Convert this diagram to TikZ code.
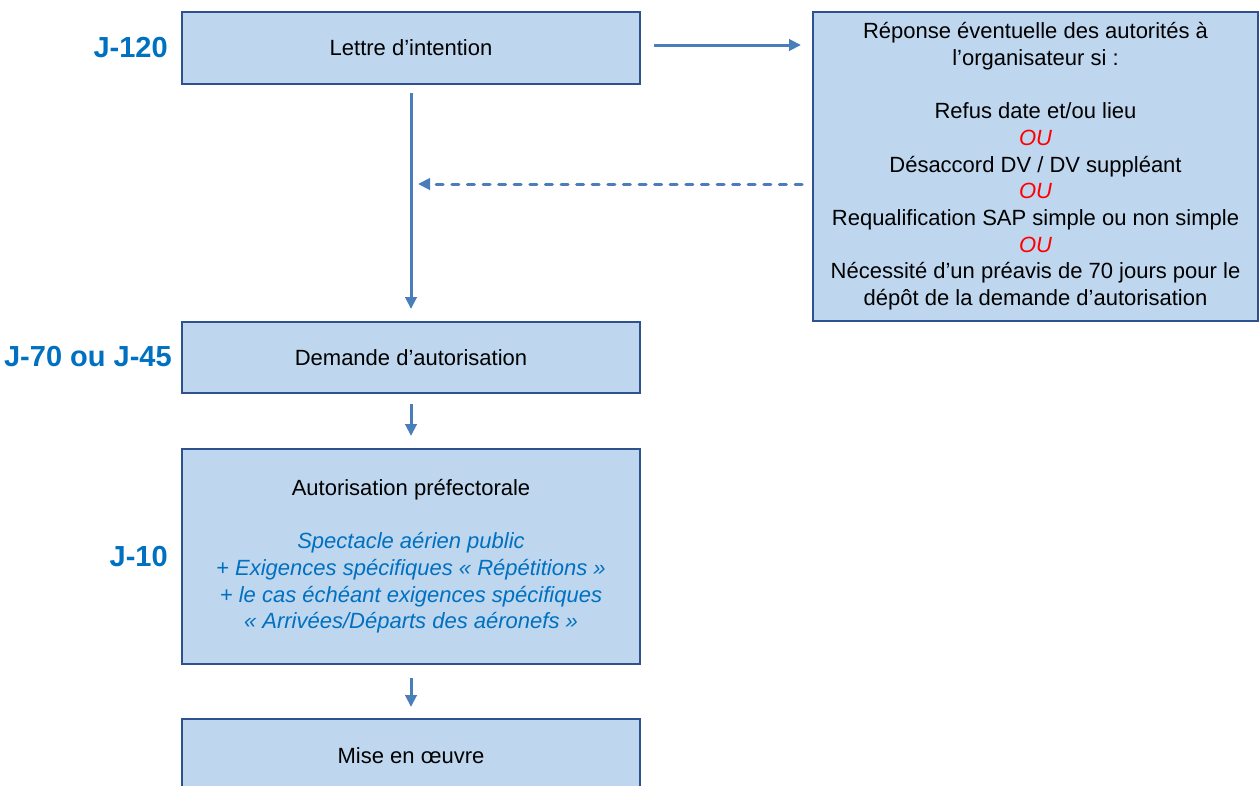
\documentclass[tikz,border=0pt]{standalone}
\usepackage{fontspec}
\setmainfont{Liberation Sans}
\usetikzlibrary{arrows.meta,calc}
\definecolor{boxfill}{RGB}{190,214,238}
\definecolor{boxline}{RGB}{47,82,143}
\definecolor{arrowc}{RGB}{74,126,187}
\definecolor{labelc}{RGB}{0,112,192}
\definecolor{ourred}{RGB}{255,0,0}
\tikzset{
  stepbox/.style={draw=boxline, line width=1.5pt, fill=boxfill, align=center,
    inner sep=0pt, font=\fontsize{16.5}{20}\selectfont},
  daylabel/.style={anchor=east, inner sep=0pt, text=labelc,
    font=\fontsize{21.75}{26}\selectfont\bfseries},
  arr/.style={draw=arrowc, line width=2.25pt,
    -{Triangle[length=9pt,width=8.5pt]}},
  dasharr/.style={arr, line cap=round, dash pattern=on 5.25pt off 6.45pt},
  bluei/.style={text=labelc}
}
\begin{document}
\begin{tikzpicture}[x=0.75pt,y=-0.75pt]
\useasboundingbox (0,0) rectangle (1259,785);
% boxes
\node[stepbox, minimum width=458*0.75pt, minimum height=72*0.75pt] (lettre) at (411,48) {Lettre d’intention};
\node[stepbox, minimum width=445*0.75pt, minimum height=309*0.75pt] (rbox) at (1035.5,166.5)
  {Réponse éventuelle des autorités à\\
   l’organisateur si :\\
   \mbox{}\\
   Refus date et/ou lieu\\
   {\color{ourred}\itshape OU}\\
   Désaccord DV / DV suppléant\\
   {\color{ourred}\itshape OU}\\
   Requalification SAP simple ou non simple\\
   {\color{ourred}\itshape OU}\\
   Nécessité d’un préavis de 70 jours pour le\\
   dépôt de la demande d’autorisation};
\node[stepbox, minimum width=458*0.75pt, minimum height=71*0.75pt] (demande) at (411,357.5) {Demande d’autorisation};
\node[stepbox, minimum width=458*0.75pt, minimum height=215*0.75pt] (autor) at (411,556.5)
  {Autorisation préfectorale\\
   \mbox{}\\
   {\color{labelc}\itshape Spectacle aérien public}\\
   {\color{labelc}\itshape + Exigences spécifiques «~Répétitions~»}\\
   {\color{labelc}\itshape + le cas échéant exigences spécifiques}\\
   {\color{labelc}\itshape «~Arrivées/Départs des aéronefs~»}};
\node[stepbox, minimum width=458*0.75pt, minimum height=74*0.75pt] (mise) at (411,756) {Mise en œuvre};
% labels
\node[daylabel] (l120) at (168,48) {J-120};
\node[daylabel] (l70) at (172,357) {J-70 ou J-45};
\node[daylabel] (l10) at (168,557) {J-10};
% connectors
\draw[arr, shorten <=6pt, shorten >=9pt] (lettre.south) -- (demande.north);
\coordinate (h1) at ([yshift=2.25pt]lettre.east);
\draw[arr, shorten <=9.75pt, shorten >=8.25pt] (h1) -- (h1 -| rbox.west);
\coordinate (dy) at (0,184);
\draw[dasharr, shorten <=7.5pt, shorten >=5.25pt] (rbox.west |- dy) -- (lettre.south |- dy);
\draw[arr, shorten <=7.5pt, shorten >=9pt] (demande.south) -- (autor.north);
\draw[arr, shorten <=9.75pt, shorten >=8.25pt] (autor.south) -- (mise.north);
\end{tikzpicture}
\end{document}
